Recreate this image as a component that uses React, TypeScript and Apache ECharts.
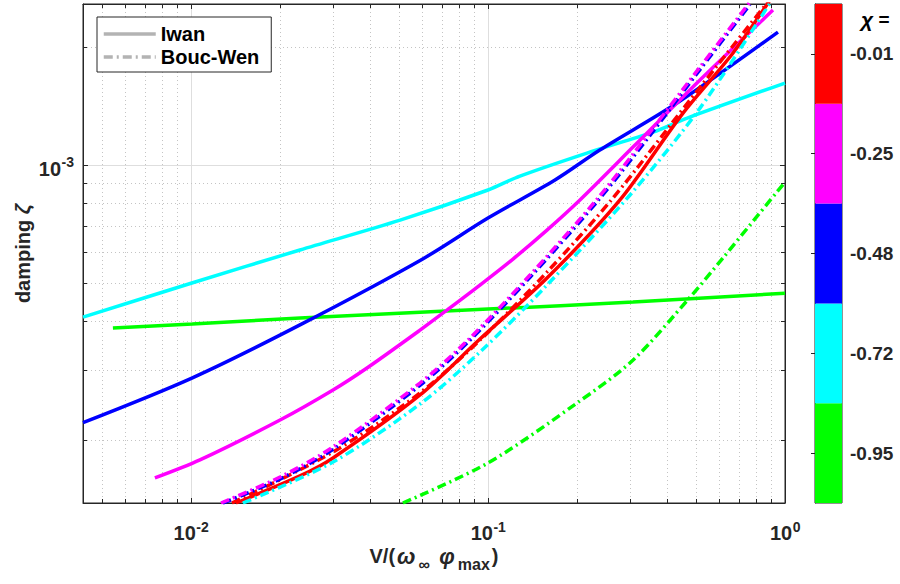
import React, { useEffect, useRef } from 'react';
import * as echarts from 'echarts';

// ---------- axis ranges ----------
const X_MIN = 0.00433;
const X_MAX = 1;
const Y_MIN = 1.38e-4;
const Y_MAX = 2.57e-3;

// labelled (major) ticks
const xMajorTicks = [0.01, 0.1, 1];
const yMajorTicks = [0.001];

// minor tick / grid positions (2..9 x 10^k)
const xMinorTicks = [
  0.005, 0.006, 0.007, 0.008, 0.009,
  0.02, 0.03, 0.04, 0.05, 0.06, 0.07, 0.08, 0.09,
  0.2, 0.3, 0.4, 0.5, 0.6, 0.7, 0.8, 0.9,
];
const yMinorTicks = [2e-4, 3e-4, 4e-4, 5e-4, 6e-4, 7e-4, 8e-4, 9e-4, 2e-3];

// ---------- colour bar ----------
const chiLabels = ['-0.95', '-0.72', '-0.48', '-0.25', '-0.01'];
const chiColors = ['#00ff00', '#00ffff', '#0000ff', '#ff00ff', '#ff0000'];
const chiBlocks = [1, 1, 1, 1, 1];

// ---------- Iwan (solid) ----------
const iwanX_095 = [0.00546, 0.0101, 0.0233, 0.1, 0.308, 1];
const iwanY_095 = [3.85e-4, 3.94e-4, 4.08e-4, 4.3e-4, 4.48e-4, 4.72e-4];

const iwanX_072 = [0.00433, 0.01007, 0.02328, 0.0506, 0.1, 0.1281, 0.2154, 0.3594, 0.4687, 1];
const iwanY_072 = [4.1e-4, 5.01e-4, 6.08e-4, 7.24e-4, 8.64e-4, 9.375e-4, 1.073e-3, 1.213e-3, 1.317e-3, 1.617e-3];

const iwanX_048 = [0.00433, 0.01007, 0.02328, 0.0601, 0.1, 0.1681, 0.238, 0.4329, 0.947];
const iwanY_048 = [2.21e-4, 2.87e-4, 3.92e-4, 5.76e-4, 7.33e-4, 9.16e-4, 1.092e-3, 1.438e-3, 2.18e-3];

const iwanX_025 = [0.00756, 0.01072, 0.01995, 0.03008, 0.03914, 0.05904, 0.07278, 0.09398, 0.1214, 0.158, 0.204, 0.3078, 0.5173, 0.911];
const iwanY_025 = [1.598e-4, 1.776e-4, 2.244e-4, 2.676e-4, 3.044e-4, 3.8e-4, 4.276e-4, 4.95e-4, 5.765e-4, 6.83e-4, 8.15e-4, 1.111e-3, 1.646e-3, 2.48e-3];

const iwanX_001 = [0.01417, 0.02328, 0.03008, 0.05904, 0.09398, 0.158, 0.2782, 0.4535, 0.6683, 0.8902];
const iwanY_001 = [1.38e-4, 1.617e-4, 1.797e-4, 2.599e-4, 3.607e-4, 5.157e-4, 8.15e-4, 1.356e-3, 1.928e-3, 2.63e-3];

// ---------- Bouc-Wen (dash-dot) ----------
const bwX_095 = [0.0517, 0.1, 0.1995, 0.308, 0.479, 0.618, 1];
const bwY_095 = [1.38e-4, 1.745e-4, 2.48e-4, 3.19e-4, 4.61e-4, 5.8e-4, 9.05e-4];

const bwX_072 = [0.01496, 0.03008, 0.05904, 0.09398, 0.158, 0.3007, 0.5173, 0.8902];
const bwY_072 = [1.38e-4, 1.755e-4, 2.465e-4, 3.343e-4, 4.95e-4, 8.39e-4, 1.396e-3, 2.584e-3];

const bwX_048 = [0.0128, 0.02, 0.0301, 0.059, 0.0856, 0.1385, 0.2347, 0.3511, 0.5173, 0.7623];
const bwY_048 = [1.38e-4, 1.59e-4, 1.89e-4, 2.75e-4, 3.54e-4, 5.18e-4, 8.12e-4, 1.19e-3, 1.75e-3, 2.56e-3];

const bwX_025 = [0.01262, 0.01995, 0.03008, 0.05904, 0.0856, 0.1385, 0.2347, 0.3511, 0.5173, 0.7623];
const bwY_025 = [1.38e-4, 1.607e-4, 1.916e-4, 2.788e-4, 3.586e-4, 5.25e-4, 8.245e-4, 1.213e-3, 1.776e-3, 2.599e-3];

const bwX_001 = [0.01374, 0.03008, 0.05904, 0.09398, 0.158, 0.2636, 0.4787, 0.8698];
const bwY_001 = [1.38e-4, 1.861e-4, 2.63e-4, 3.586e-4, 5.341e-4, 8.245e-4, 1.464e-3, 2.584e-3];

const FONT = '"Liberation Sans", Arial, Helvetica, sans-serif';
const AX = '#262626';
const DASHDOT = [9, 4, 2, 4];
const LW = 3.5;
const TICK_FS = 20;
const SUP_FS = 14;

const zip = (xs: number[], ys: number[]) => xs.map((x, i) => [x, ys[i]]);
const expOf = (v: number) => Math.round(Math.log10(v));
const supWidth = (s: string, fs: number) =>
  s.split('').reduce((w, c) => w + (c === '-' ? 0.333 : 0.556) * fs, 0);

function lineSeries(name: string, xs: number[], ys: number[], color: string, dashed: boolean) {
  return {
    type: 'line',
    name,
    xAxisIndex: 0,
    yAxisIndex: 0,
    data: zip(xs, ys),
    symbol: 'none',
    smooth: 0.3,
    clip: true,
    z: 3,
    lineStyle: { color, width: LW, type: dashed ? DASHDOT : 'solid' },
    itemStyle: { color },
    emphasis: { disabled: true },
  };
}

const baseText = (text: string, fs: number, align: string) => ({
  text,
  fontSize: fs,
  fontWeight: 'bold',
  fontFamily: FONT,
  fill: AX,
  align,
  verticalAlign: 'middle',
  textAlign: align,
  textVerticalAlign: 'middle',
});

export default function App() {
  const ref = useRef<HTMLDivElement>(null);

  useEffect(() => {
    if (!ref.current) return;
    const chart = echarts.init(ref.current, undefined, { renderer: 'svg' });

    const minorX = {
      type: 'custom',
      xAxisIndex: 0,
      yAxisIndex: 0,
      z: 1,
      silent: true,
      data: xMinorTicks.map((v) => [v, Y_MIN]),
      renderItem: (params: any, api: any) => {
        const cs = params.coordSys;
        const p = api.coord([api.value(0), Y_MIN]);
        const x = Math.round(p[0]) + 0.5;
        return {
          type: 'group',
          children: [
            { type: 'line', shape: { x1: x, y1: cs.y, x2: x, y2: cs.y + cs.height }, style: { stroke: '#c4c4c4', lineWidth: 1, lineDash: [1, 3] } },
            { type: 'line', shape: { x1: x, y1: cs.y + cs.height, x2: x, y2: cs.y + cs.height - 4 }, style: { stroke: AX, lineWidth: 1 } },
            { type: 'line', shape: { x1: x, y1: cs.y, x2: x, y2: cs.y + 4 }, style: { stroke: AX, lineWidth: 1 } },
          ],
        };
      },
    };
    const minorY = {
      type: 'custom',
      xAxisIndex: 0,
      yAxisIndex: 0,
      z: 1,
      silent: true,
      data: yMinorTicks.map((v) => [X_MIN, v]),
      renderItem: (params: any, api: any) => {
        const cs = params.coordSys;
        const p = api.coord([X_MIN, api.value(1)]);
        const y = Math.round(p[1]) + 0.5;
        return {
          type: 'group',
          children: [
            { type: 'line', shape: { x1: cs.x, y1: y, x2: cs.x + cs.width, y2: y }, style: { stroke: '#c4c4c4', lineWidth: 1, lineDash: [1, 3] } },
            { type: 'line', shape: { x1: cs.x, y1: y, x2: cs.x + 4, y2: y }, style: { stroke: AX, lineWidth: 1 } },
            { type: 'line', shape: { x1: cs.x + cs.width, y1: y, x2: cs.x + cs.width - 4, y2: y }, style: { stroke: AX, lineWidth: 1 } },
          ],
        };
      },
    };

    // power-of-ten tick labels, placed through the axis scale
    const xLabels = {
      type: 'custom',
      xAxisIndex: 0,
      yAxisIndex: 0,
      z: 5,
      silent: true,
      clip: false,
      data: xMajorTicks.map((v) => [v, Y_MIN]),
      renderItem: (params: any, api: any) => {
        const cs = params.coordSys;
        const v = api.value(0);
        const e = String(expOf(v));
        const p = api.coord([v, Y_MIN]);
        const bottom = cs.y + cs.height;
        const wb = 1.112 * TICK_FS;
        const ws = supWidth(e, SUP_FS);
        const left = p[0] - (wb + ws) / 2;
        return {
          type: 'group',
          children: [
            { type: 'text', x: left + wb, y: bottom + 30, style: baseText('10', TICK_FS, 'right') },
            { type: 'text', x: left + wb + 0.5, y: bottom + 24, style: baseText(e, SUP_FS, 'left') },
          ],
        };
      },
    };
    const yLabels = {
      type: 'custom',
      xAxisIndex: 0,
      yAxisIndex: 0,
      z: 5,
      silent: true,
      clip: false,
      data: yMajorTicks.map((v) => [X_MIN, v]),
      renderItem: (params: any, api: any) => {
        const cs = params.coordSys;
        const v = api.value(1);
        const e = String(expOf(v));
        const p = api.coord([X_MIN, v]);
        const ws = supWidth(e, SUP_FS);
        const right = cs.x - 9;
        return {
          type: 'group',
          children: [
            { type: 'text', x: right - ws - 0.5, y: p[1] + 4, style: baseText('10', TICK_FS, 'right') },
            { type: 'text', x: right - ws, y: p[1] - 3, style: baseText(e, SUP_FS, 'left') },
          ],
        };
      },
    };

    const logAxisCommon = {
      type: 'log',
      logBase: 10,
      gridIndex: 0,
      axisLine: { show: true, lineStyle: { color: AX, width: 1 } },
      axisTick: { show: true, inside: true, length: 5, lineStyle: { color: AX } },
      minorTick: { show: false },
      axisLabel: { show: false },
    };

    const option: any = {
      animation: false,
      backgroundColor: '#ffffff',
      textStyle: { fontFamily: FONT },
      grid: [
        { left: 83, top: 4, width: 702, height: 499, show: true, borderColor: AX, borderWidth: 1, backgroundColor: '#fff' },
        { left: 815, top: 4, width: 27, height: 499, show: true, borderColor: AX, borderWidth: 1 },
      ],
      legend: {
        orient: 'vertical',
        left: 97,
        top: 17,
        padding: [7, 12, 5, 5],
        itemWidth: 52,
        itemHeight: 20,
        itemGap: 3,
        backgroundColor: '#fff',
        borderColor: AX,
        borderWidth: 1,
        selectedMode: false,
        data: ['Iwan', 'Bouc-Wen'],
        itemStyle: { opacity: 0 },
        lineStyle: { width: LW },
        textStyle: { fontSize: 20, fontWeight: 'bold', color: '#000', fontFamily: FONT },
      },
      xAxis: [
        {
          ...logAxisCommon,
          min: X_MIN,
          max: X_MAX,
          position: 'bottom',
          name: 'V/({i|ω}{sub|∞} {i|φ}{sub|max})',
          nameLocation: 'middle',
          nameGap: 37,
          nameMoveOverlap: false,
          nameTextStyle: {
            fontSize: 20,
            fontWeight: 'bold',
            color: AX,
            fontFamily: FONT,
            rich: {
              i: { fontSize: 22, fontWeight: 'bold', fontStyle: 'italic', color: AX, fontFamily: FONT, padding: [0, 2, 0, 2] },
              sub: { fontSize: 16, fontWeight: 'bold', color: AX, fontFamily: FONT, padding: [16, 2, 0, 1] },
            },
          },
          splitLine: { show: true, showMinLine: false, showMaxLine: false, lineStyle: { color: '#dedede', width: 1 } },
        },
        {
          ...logAxisCommon,
          min: X_MIN,
          max: X_MAX,
          position: 'top',
          splitLine: { show: false },
        },
        { type: 'value', gridIndex: 1, min: 0, max: 1, show: false },
      ],
      yAxis: [
        {
          ...logAxisCommon,
          min: Y_MIN,
          max: Y_MAX,
          position: 'left',
          name: 'damping {z|ζ}',
          nameLocation: 'middle',
          nameGap: 50,
          nameRotate: 90,
          nameMoveOverlap: false,
          nameTextStyle: {
            fontSize: 20,
            fontWeight: 'bold',
            color: AX,
            fontFamily: FONT,
            rich: { z: { fontSize: 21, fontWeight: 'bold', fontStyle: 'italic', color: AX, fontFamily: FONT } },
          },
          splitLine: { show: true, showMinLine: false, showMaxLine: false, lineStyle: { color: '#dedede', width: 1 } },
        },
        {
          ...logAxisCommon,
          min: Y_MIN,
          max: Y_MAX,
          position: 'right',
          splitLine: { show: false },
        },
        {
          type: 'category',
          gridIndex: 1,
          position: 'right',
          data: chiLabels,
          boundaryGap: true,
          axisLine: { show: true, lineStyle: { color: AX } },
          axisTick: { show: true, inside: true, alignWithLabel: true, length: 4, lineStyle: { color: AX } },
          axisLabel: { show: true, margin: 8, fontSize: 19, fontWeight: 'bold', color: AX, fontFamily: FONT },
          splitLine: { show: false },
        },
      ],
      graphic: [
        {
          type: 'text',
          left: 861,
          top: 9,
          style: {
            text: '{c|χ} =',
            fontSize: 19,
            fontWeight: 'bold',
            fill: '#000',
            fontFamily: FONT,
            rich: { c: { fontSize: 21, fontWeight: 'bold', fontStyle: 'italic', fill: '#000', fontFamily: FONT } },
          },
        },
      ],
      series: [
        minorX,
        minorY,
        xLabels,
        yLabels,
        {
          type: 'bar',
          name: 'chi',
          xAxisIndex: 2,
          yAxisIndex: 2,
          barWidth: '100%',
          barCategoryGap: '0%',
          silent: true,
          z: 1,
          data: chiBlocks.map((v, i) => ({ value: v, itemStyle: { color: chiColors[i] } })),
        },
        // legend placeholders
        { type: 'line', name: 'Iwan', data: [], symbol: 'none', xAxisIndex: 0, yAxisIndex: 0, lineStyle: { color: '#b3b3b3', width: LW, type: 'solid' }, itemStyle: { color: '#b3b3b3' } },
        { type: 'line', name: 'Bouc-Wen', data: [], symbol: 'none', xAxisIndex: 0, yAxisIndex: 0, lineStyle: { color: '#b3b3b3', width: LW, type: DASHDOT }, itemStyle: { color: '#b3b3b3' } },
        lineSeries('Iwan -0.95', iwanX_095, iwanY_095, chiColors[0], false),
        lineSeries('Iwan -0.72', iwanX_072, iwanY_072, chiColors[1], false),
        lineSeries('Iwan -0.48', iwanX_048, iwanY_048, chiColors[2], false),
        lineSeries('Iwan -0.25', iwanX_025, iwanY_025, chiColors[3], false),
        lineSeries('Iwan -0.01', iwanX_001, iwanY_001, chiColors[4], false),
        lineSeries('BW -0.95', bwX_095, bwY_095, chiColors[0], true),
        lineSeries('BW -0.72', bwX_072, bwY_072, chiColors[1], true),
        lineSeries('BW -0.01', bwX_001, bwY_001, chiColors[4], true),
        lineSeries('BW -0.48', bwX_048, bwY_048, chiColors[2], true),
        lineSeries('BW -0.25', bwX_025, bwY_025, chiColors[3], true),
      ],
    };

    chart.setOption(option);
    return () => chart.dispose();
  }, []);

  return (
    <div
      ref={ref}
      style={{ position: 'fixed', left: 0, top: 0, width: 900, height: 584, background: '#fff' }}
    />
  );
}
